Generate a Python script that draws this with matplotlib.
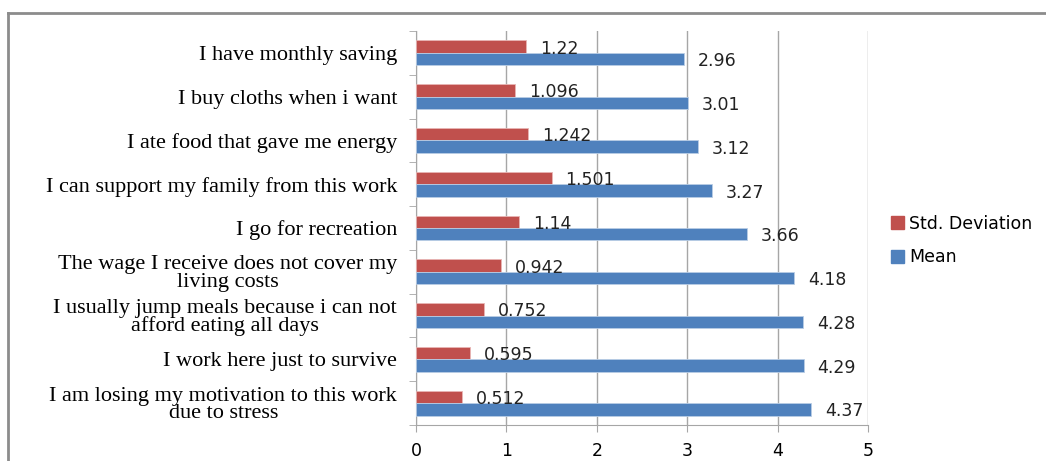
import numpy as np
import matplotlib.pyplot as plt
from matplotlib.lines import Line2D
from matplotlib.patches import Patch

# Survey items, top to bottom
items = [
    "I have monthly saving",
    "I buy cloths when i want",
    "I ate food that gave me energy",
    "I can support my family from this work",
    "I go for recreation",
    "The wage I receive does not cover my\nliving costs",
    "I usually jump meals because i can not\nafford eating all days",
    "I work here just to survive",
    "I am losing my motivation to this work\ndue to stress",
]
mean = [2.96, 3.01, 3.12, 3.27, 3.66, 4.18, 4.28, 4.29, 4.37]
std_dev = [1.22, 1.096, 1.242, 1.501, 1.14, 0.942, 0.752, 0.595, 0.512]
xticks = [0, 1, 2, 3, 4, 5]

red = "#C0504D"
blue = "#4F81BD"
grid_col = "#A6A6A6"

fig = plt.figure(figsize=(10.46, 4.61), dpi=100)
ax = fig.add_axes([0.3977, 0.0781, 0.4321, 0.8547])

y = np.arange(len(items))
h = 0.285
ax.barh(y - h / 2, std_dev, height=h, color=red, edgecolor="#E8B5B4", linewidth=0.6, zorder=3)
ax.barh(y + h / 2, mean, height=h, color=blue, edgecolor="#B9CDE5", linewidth=0.6, zorder=3)

for yi, s, m in zip(y, std_dev, mean):
    ax.annotate(f"{s:g}", (s, yi - h / 2), xytext=(10, -1.5), textcoords="offset points",
                va="center", ha="left", fontsize=12.5, color="#222222")
    ax.annotate(f"{m:g}", (m, yi + h / 2), xytext=(10, -1.5), textcoords="offset points",
                va="center", ha="left", fontsize=12.5, color="#222222")

ax.set_xlim(0, 5)
ax.set_ylim(len(items) - 0.5, -0.5)
ax.set_xticks(xticks)
ax.set_xticklabels([str(t) for t in xticks], fontsize=12.5)
ax.tick_params(axis="x", length=5, color=grid_col, pad=7)

ax.set_yticks(y)
ax.set_yticklabels(items, family="Liberation Serif", fontsize=16, linespacing=0.92)
for lbl in ax.get_yticklabels():
    lbl.set_multialignment("center")
ax.tick_params(axis="y", which="major", length=0, pad=13.5)
ax.set_yticks(np.arange(-0.5, len(items)), minor=True)
ax.tick_params(axis="y", which="minor", length=5, color=grid_col)

ax.grid(axis="x", color=grid_col, linewidth=1, zorder=0)
ax.set_axisbelow(True)
for side in ("top", "right"):
    ax.spines[side].set_visible(False)
for side in ("left", "bottom"):
    ax.spines[side].set_color(grid_col)

handles = [Patch(color=red, label="Std. Deviation"), Patch(color=blue, label="Mean")]
fig.legend(handles=handles, loc="center left", bbox_to_anchor=(0.837, 0.478),
           frameon=False, fontsize=12.5, handlelength=0.75, handleheight=0.75,
           handletextpad=0.3, labelspacing=0.9)

# outer chart border
fig.add_artist(Line2D([8 / 1046, 1], [1 - 13 / 461] * 2, color="#8C8C8C", lw=2))
fig.add_artist(Line2D([8 / 1046] * 2, [0, 1 - 13 / 461], color="#8C8C8C", lw=2))

fig.savefig("out.png", dpi=100)
